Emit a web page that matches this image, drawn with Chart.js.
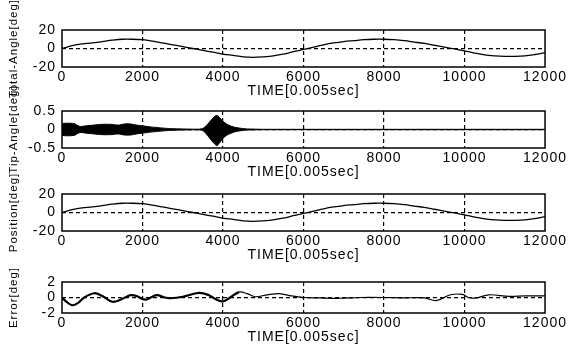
<!DOCTYPE html>
<html>
<head>
<meta charset="utf-8">
<script src="https://cdn.jsdelivr.net/npm/chart.js@4.4.1/dist/chart.umd.min.js"></script>
<style>
  html, body { margin: 0; padding: 0; background: #fff; }
  #wrap { position: relative; width: 569px; height: 347px; overflow: hidden; background: #fff; }
  .box { position: absolute; left: 0; width: 569px; }
</style>
</head>
<body>
<div id="wrap">
  <div class="box" id="b1"><canvas id="c1"></canvas></div>
  <div class="box" id="b2"><canvas id="c2"></canvas></div>
  <div class="box" id="b3"><canvas id="c3"></canvas></div>
  <div class="box" id="b4"><canvas id="c4"></canvas></div>
</div>
<script>
// x positions (TIME) of the smooth angle curves
const angleTime = [0, 250, 500, 750, 1000, 1250, 1500, 1750, 2000, 2250, 2500, 2750,
  3000, 3250, 3500, 3750, 4000, 4250, 4500, 4750, 5000, 5250, 5500, 5750,
  6000, 6250, 6500, 6750, 7000, 7250, 7500, 7750, 8000, 8250, 8500, 8750,
  9000, 9250, 9500, 9750, 10000, 10250, 10500, 10750, 11000, 11250, 11500, 11750, 12000];

const totalAngle = [0, 3, 5, 6, 7.5, 9, 10, 10, 9.5, 8, 6, 4,
  2, 0, -2, -4, -6, -7.5, -9, -9.5, -9, -8, -6, -3.5,
  -1, 1.5, 4, 6, 7.5, 8.5, 9.5, 10, 10, 9.5, 8.5, 7,
  5.5, 3.5, 1.5, -0.5, -2.5, -5, -7, -8, -8.5, -8.5, -8, -6.5, -4.5];

const positionAngle = [0, 3, 5, 6, 7.5, 9, 10, 10, 9.5, 8, 6, 4,
  2, 0, -2, -4, -6, -7.5, -9, -9.5, -9, -8, -6, -3.5,
  -1, 1.5, 4, 6, 7.5, 8.5, 9.5, 10, 10, 9.5, 8.5, 7,
  5.5, 3.5, 1.5, -0.5, -2.5, -5, -7, -8, -8.5, -8.5, -8, -6.5, -4.5];

// tip angle: envelope of the fast vibration
const tipTime = [0, 100, 300, 400, 470, 600, 800, 1000, 1200, 1400, 1550, 1700, 1850, 2000,
  2200, 2400, 2600, 2800, 3000, 3200, 3400, 3500, 3600, 3700, 3800, 3850, 3900,
  4000, 4100, 4200, 4300, 4400, 4500, 4600, 4800, 5000, 12000];
const tipUpper = [0.16, 0.17, 0.16, 0.10, 0.08, 0.10, 0.12, 0.14, 0.14, 0.12, 0.15, 0.15, 0.12, 0.10,
  0.07, 0.05, 0.03, 0.02, 0.015, 0.01, 0.01, 0.03, 0.12, 0.25, 0.36, 0.38, 0.34,
  0.22, 0.14, 0.09, 0.06, 0.04, 0.025, 0.015, 0.01, 0.005, 0.005];
const tipLower = [-0.16, -0.17, -0.16, -0.10, -0.08, -0.10, -0.12, -0.14, -0.14, -0.12, -0.15, -0.15, -0.12, -0.10,
  -0.07, -0.05, -0.03, -0.02, -0.015, -0.01, -0.01, -0.03, -0.14, -0.28, -0.40, -0.44, -0.38,
  -0.24, -0.15, -0.10, -0.06, -0.04, -0.025, -0.015, -0.01, -0.005, -0.005];

// tracking error
const errorTime = [0, 100, 250, 400, 550, 800, 1000, 1250, 1450, 1700, 1850, 2000, 2100, 2350,
  2550, 2700, 3000, 3400, 3650, 3850, 4000, 4150, 4400, 4600, 4800, 5100, 5400, 5700,
  6000, 6400, 6900, 7400, 8000, 8500, 9000, 9300, 9650, 9950, 10100, 10300, 10600,
  11100, 11500, 12000];
const errorValues = [0, -0.5, -1.0, -0.7, 0, 0.55, 0.2, -0.55, -0.3, 0.3, 0.2, -0.2, -0.25, 0.3,
  0, -0.1, 0.1, 0.6, 0.3, -0.3, -0.5, -0.1, 0.7, 0.5, 0.1, 0.35, 0.5, 0.2,
  0, -0.05, -0.1, 0, 0, -0.05, -0.05, -0.4, 0.35, 0.4, 0, -0.05, 0.35,
  0.15, 0.2, 0.2];

const xTicks = [0, 2000, 4000, 6000, 8000, 10000, 12000];
const xTitle = "TIME[0.005sec]";

const plots = [
  { id: "c1", box: "b1", top: 30, bottom: 67 },
  { id: "c2", box: "b2", top: 111, bottom: 148 },
  { id: "c3", box: "b3", top: 194, bottom: 231 },
  { id: "c4", box: "b4", top: 282, bottom: 313 }
];
const PAD_TOP = 40, X_AXIS_H = 33, Y_AXIS_W = 62;
const FONT = { family: "'Liberation Sans', Arial, sans-serif", size: 14 };
const YTITLE_FONT = { family: "'Liberation Sans', Arial, sans-serif", size: 11.5 };

const pts = (xs, ys) => xs.map((x, i) => ({ x: x, y: ys[i] }));

// wider letter spacing like the scanned MATLAB text, plus a closed axes box
const matlabLook = {
  id: "matlabLook",
  beforeLayout(chart) { chart.ctx.letterSpacing = "1px"; },
  beforeDraw(chart) { chart.ctx.letterSpacing = "1px"; },
  afterDraw(chart) {
    const a = chart.chartArea, ctx = chart.ctx;
    ctx.save();
    ctx.strokeStyle = "#000";
    ctx.lineWidth = 1.5;
    ctx.strokeRect(a.left, a.top, a.right - a.left, a.bottom - a.top);
    ctx.restore();
  }
};

function makeChart(p, datasets, yTicks, yTitle) {
  const box = document.getElementById(p.box);
  box.style.top = (p.top - PAD_TOP) + "px";
  box.style.height = (PAD_TOP + (p.bottom - p.top) + X_AXIS_H) + "px";
  const yMin = yTicks[0], yMax = yTicks[yTicks.length - 1];
  return new Chart(document.getElementById(p.id), {
    type: "line",
    data: { datasets: datasets },
    plugins: [matlabLook],
    options: {
      responsive: true,
      maintainAspectRatio: false,
      animation: false,
      layout: { padding: { top: PAD_TOP, right: 21, left: 0, bottom: 0 } },
      plugins: { legend: { display: false }, tooltip: { enabled: false } },
      elements: { point: { radius: 0 }, line: { tension: 0.35 } },
      scales: {
        x: {
          type: "linear",
          min: xTicks[0],
          max: xTicks[xTicks.length - 1],
          afterBuildTicks: (s) => { s.ticks = xTicks.map(v => ({ value: v })); },
          afterFit: (s) => { s.height = X_AXIS_H; },
          ticks: { color: "#000", font: FONT, padding: 2, autoSkip: false, maxRotation: 0,
            callback: (v) => String(v) },
          grid: {
            drawTicks: false,
            lineWidth: 1.2,
            color: (c) => (c.tick && (c.tick.value === xTicks[0] || c.tick.value === xTicks[xTicks.length - 1])) ? "rgba(0,0,0,0)" : "#000"
          },
          border: { display: false, dash: [4, 3] },
          title: { display: true, text: xTitle, color: "#000", font: FONT, padding: { top: 0, bottom: 0 } }
        },
        y: {
          min: yMin,
          max: yMax,
          afterBuildTicks: (s) => { s.ticks = yTicks.map(v => ({ value: v })); },
          afterFit: (s) => { s.width = Y_AXIS_W; },
          ticks: { color: "#000", font: FONT, padding: 6, autoSkip: false, callback: (v) => String(v) },
          grid: {
            drawTicks: false,
            lineWidth: 1.2,
            color: (c) => (c.tick && c.tick.value === 0) ? "#000" : "rgba(0,0,0,0)"
          },
          border: { display: false, dash: [4, 3] },
          title: { display: true, text: yTitle, color: "#000", font: YTITLE_FONT, padding: { top: 7, bottom: 0 } }
        }
      }
    }
  });
}

makeChart(plots[0], [{
  data: pts(angleTime, totalAngle), borderColor: "#000", borderWidth: 1.3, fill: false
}], [-20, 0, 20], "Total-Angle[deg]");

makeChart(plots[1], [{
  data: pts(tipTime, tipUpper), borderColor: "#000", backgroundColor: "#000", borderWidth: 1, fill: "+1", tension: 0.2
}, {
  data: pts(tipTime, tipLower), borderColor: "#000", backgroundColor: "#000", borderWidth: 1, fill: false, tension: 0.2
}], [-0.5, 0, 0.5], "Tip-Angle[deg]");

makeChart(plots[2], [{
  data: pts(angleTime, positionAngle), borderColor: "#000", borderWidth: 1.3, fill: false
}], [-20, 0, 20], "Position[deg]");

makeChart(plots[3], [{
  data: pts(errorTime, errorValues), borderColor: "#000", fill: false,
  segment: { borderWidth: (ctx) => ctx.p0.parsed.x < 4200 ? 2.2 : 1.2 }
}], [-2, 0, 2], "Error[deg]");
</script>
</body>
</html>
